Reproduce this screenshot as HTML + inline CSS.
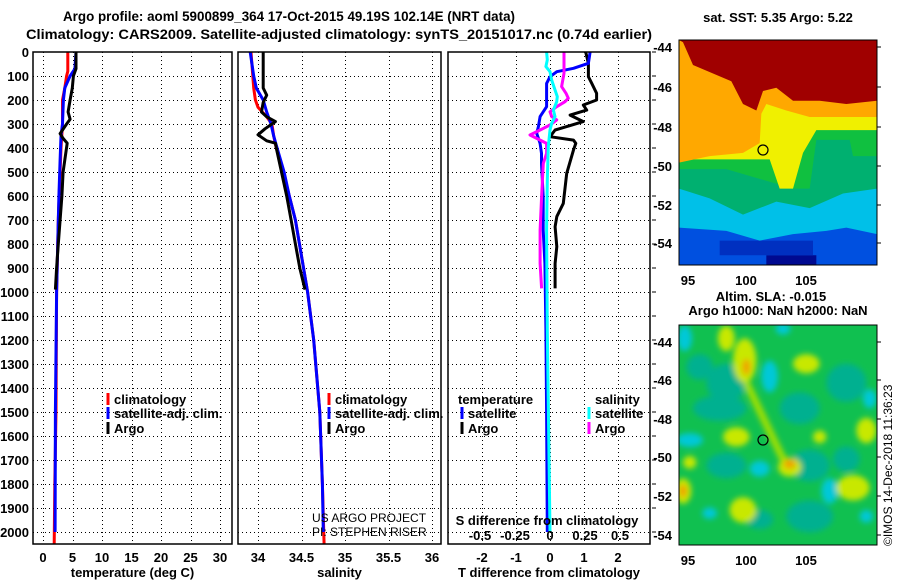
<!DOCTYPE html>
<html><head><meta charset="utf-8">
<style>
html,body{margin:0;padding:0;background:#fff;}
svg{display:block;font-family:"Liberation Sans",sans-serif;}
.b{font-weight:bold;font-size:13px;fill:#000;}
.grid{stroke:#000;stroke-width:1;stroke-dasharray:1,3;shape-rendering:crispEdges;}
</style></head>
<body>
<svg id="chart" width="900" height="580" viewBox="0 0 900 580" xmlns="http://www.w3.org/2000/svg">
<rect width="900" height="580" fill="#fff"/>
<text x="289" y="21" text-anchor="middle" font-weight="bold" font-size="14" textLength="452" lengthAdjust="spacingAndGlyphs">Argo profile: aoml 5900899_364 17-Oct-2015 49.19S 102.14E (NRT data)</text>
<text x="339" y="39" text-anchor="middle" font-weight="bold" font-size="14" textLength="626" lengthAdjust="spacingAndGlyphs">Climatology: CARS2009. Satellite-adjusted climatology: synTS_20151017.nc (0.74d earlier)</text>
<g id="panels"></g>
<g id="maps"></g>
</svg>
<script>
// ---------- data ----------
const depthTicks = [0,100,200,300,400,500,600,700,800,900,1000,1100,1200,1300,1400,1500,1600,1700,1800,1900,2000];
const tempTicks = [0,5,10,15,20,25,30];
const salTicks = [34,34.5,35,35.5,36];
const tdiffTicks = [-2,-1,0,1,2];
const sdiffTicks = [-0.5,-0.25,0,0.25,0.5];

const climTempDepth = [0,80,100,150,200,300,400,500,700,1000,1500,1800,2050];
const climTemp      = [4.2,4.2,4.0,3.7,3.3,3.3,3.05,2.9,2.6,2.3,2.2,2.0,1.9];
const satTempDepth  = [0,70,100,150,200,300,350,450,600,700,1000,1500,2000];
const satTemp       = [5.6,5.4,4.6,3.7,3.45,3.3,3.05,2.9,2.7,2.6,2.3,2.1,2.05];
const argoTempDepth = [0,70,100,150,200,250,280,300,340,360,380,450,500,600,700,800,900,990];
const argoTemp      = [5.6,5.6,5.15,4.97,4.6,4.25,4.6,4.0,2.9,3.4,4.1,3.7,3.4,3.2,2.9,2.6,2.3,2.1];

const climSalDepth = [0,100,150,200,230,270,300,350,400,500,600,700,1000,1200,1500,1800,2050];
const climSal      = [33.92,33.94,33.95,33.97,34.0,34.1,34.16,34.18,34.21,34.29,34.36,34.43,34.57,34.64,34.71,34.74,34.76];
const satSalDepth  = [0,100,150,200,250,300,350,400,500,600,700,1000,1200,1500,1800,2000];
const satSal       = [33.91,33.95,33.98,34.06,34.1,34.15,34.18,34.22,34.3,34.36,34.43,34.57,34.64,34.71,34.74,34.75];
const argoSalDepth = [0,150,180,210,250,270,290,320,345,370,380,400,500,600,700,800,900,990];
const argoSal      = [34.06,34.06,34.1,34.06,34.04,34.1,34.2,34.08,34.0,34.1,34.2,34.21,34.27,34.33,34.38,34.43,34.48,34.54];

const argoTdDepth = [0,47,103,131,172,200,221,242,263,290,311,325,353,367,381,408,506,631,686,728,811,881,985];
const argoTd      = [1.05,1.13,1.13,1.23,1.37,1.37,0.98,1.08,0.59,0.98,0.49,0.15,0,0.69,0.76,0.69,0.49,0.39,0.2,0.15,0.2,0.15,0.15];
const satTdDepth  = [0,47,68,82,103,131,186,228,269,311,339,381,422,464,603,742,881,1154,1500,2000];
const satTd       = [1.18,1.13,0.69,0.2,0,-0.1,-0.1,-0.1,-0.29,-0.34,-0.39,-0.29,-0.25,-0.25,-0.2,-0.2,-0.15,-0.12,-0.1,-0.08];
const argoSdDepth = [0,47,89,144,172,193,207,228,249,269,283,304,325,346,360,381,422,464,603,742,881,985];
const argoSd      = [0.1,0.1,0.1,0.083,0.114,0.131,0.107,0.048,0,0.012,0.048,0,-0.071,-0.143,-0.095,-0.024,-0.024,-0.048,-0.06,-0.071,-0.071,-0.06];
const satSdDepth  = [0,33,61,82,117,158,186,207,242,269,297,325,394,533,742,1154,2000];
const satSd       = [-0.024,-0.019,-0.029,0,0.012,0.036,0.052,0.048,0.024,0.036,0.012,0,-0.012,-0.019,-0.024,-0.019,0];

// ---------- helpers ----------
const NS='http://www.w3.org/2000/svg';
function mk(tag,attrs,parent,text){const e=document.createElementNS(NS,tag);for(const k in attrs)e.setAttribute(k,attrs[k]);if(text!==undefined)e.textContent=text;(parent||document.getElementById('panels')).appendChild(e);return e;}
const TOP=52, PXM=0.24, BOT=544;
const yScale = d => TOP + d*PXM;
const P1 = {x0:33,x1:232,f:v=>43+5.9*v};
const P2 = {x0:238,x1:441,f:v=>258+87*(v-34)};
const P3 = {x0:448,x1:650,f:v=>550+34*v};
const sdx = v=>550+140*v;
const G=document.getElementById('panels');
const px = v => Math.round(v)+0.5;

function line(xs,ds,fx,color,name){
  const pts = xs.map((v,i)=>fx(v).toFixed(1)+','+yScale(ds[i]).toFixed(1)).join(' ');
  const p = mk('polyline',{points:pts,fill:'none',stroke:color,'stroke-width':3,'stroke-linejoin':'round'});
  
  
}
function panel(P,ticks,fx,labels,title,name){
  const g=mk('g',{});
  
  
  depthTicks.forEach(d=>{ if(d>0) mk('line',{x1:P.x0,x2:P.x1,y1:px(yScale(d)),y2:px(yScale(d)),class:'grid'},g); });
  ticks.forEach(t=>{ mk('line',{x1:px(fx(t)),x2:px(fx(t)),y1:TOP,y2:BOT,class:'grid'},g); });
  ticks.forEach((t,i)=>{
    const tl=mk('text',{x:fx(t),y:562,'text-anchor':'middle',class:'b'},g,labels[i]);
    
    
  });
  const at=mk('text',{x:(P.x0+P.x1)/2,y:577,'text-anchor':'middle',class:'b'},g,title);
  
  
  return g;
}
function frame(P,name){
  const r=mk('rect',{x:P.x0,y:TOP,width:P.x1-P.x0,height:BOT-TOP,fill:'none',stroke:'#000','stroke-width':1.5});
  
  
}

// y tick labels
depthTicks.forEach(d=>{
  const t=mk('text',{x:29,y:yScale(d)+5,'text-anchor':'end',class:'b'},G,String(d));
  
  
  mk('line',{x1:652,x2:656,y1:yScale(d),y2:yScale(d),stroke:'#000'},G);
});

panel(P1,tempTicks,P1.f,tempTicks.map(String),'temperature (deg C)','temperature-panel');
panel(P2,salTicks,P2.f,salTicks.map(String),'salinity','salinity-panel');
panel(P3,tdiffTicks,P3.f,tdiffTicks.map(String),'T difference from climatology','difference-panel');

line(climTemp,climTempDepth,P1.f,'#ff0000','clim-temp-line');
line(satTemp,satTempDepth,P1.f,'#0000ff','sat-temp-line');
line(argoTemp,argoTempDepth,P1.f,'#000000','argo-temp-line');
line(climSal,climSalDepth,P2.f,'#ff0000','clim-sal-line');
line(satSal,satSalDepth,P2.f,'#0000ff','sat-sal-line');
line(argoSal,argoSalDepth,P2.f,'#000000','argo-sal-line');
line(argoTd,argoTdDepth,P3.f,'#000000','argo-tdiff-line');
line(satTd,satTdDepth,P3.f,'#0000ff','sat-tdiff-line');
line(argoSd,argoSdDepth,sdx,'#ff00ff','argo-sdiff-line');
line(satSd,satSdDepth,sdx,'#00ffff','sat-sdiff-line');

// S diff axis inside panel 3
const sdt=mk('text',{x:547,y:525,'text-anchor':'middle',class:'b'},G,'S difference from climatology');


const sdLab=['-0.5','-0.25','0','0.25','0.5'];
sdiffTicks.forEach((t,i)=>{
  const e=mk('text',{x:sdx(t),y:540,'text-anchor':'middle',class:'b'},G,sdLab[i]);
  
  
});

frame(P1,'temperature-frame');frame(P2,'salinity-frame');frame(P3,'difference-frame');

// legends
function leg(x,y,color,label,name){
  mk('rect',{x:x-1.5,y:y-6,width:3,height:12,fill:color},G);
  const t=mk('text',{x:x+6,y:y+5,class:'b'},G,label);
  
  
}
leg(108,399,'#ff0000','climatology','legend-climatology');
leg(108,413,'#0000ff','satellite-adj. clim.','legend-satellite-adj');
leg(108,428,'#000000','Argo','legend-argo');
leg(329,399,'#ff0000','climatology','legend-climatology-2');
leg(329,413,'#0000ff','satellite-adj. clim.','legend-satellite-adj-2');
leg(329,428,'#000000','Argo','legend-argo-2');
const lt1=mk('text',{x:458,y:404,class:'b'},G,'temperature');


const lt2=mk('text',{x:595,y:404,class:'b'},G,'salinity');


leg(462,413,'#0000ff','satellite','legend-t-satellite');
leg(462,428,'#000000','Argo','legend-t-argo');
leg(589,413,'#00ffff','satellite','legend-s-satellite');
leg(589,428,'#ff00ff','Argo','legend-s-argo');

const c1=mk('text',{x:312,y:522,'font-size':12,fill:'#000'},G,'US ARGO PROJECT');


const c2=mk('text',{x:312,y:536,'font-size':12,fill:'#000'},G,'PI: STEPHEN RISER');



// ---------- maps ----------
const M=document.getElementById('maps');
function mapAxes(top,bot,latPos){
  [-44,-46,-48,-50,-52,-54].forEach((l,i)=>{
    const t=mk('text',{x:672,y:latPos[i]+5,'text-anchor':'end',class:'b'},M,String(l));
    
    
    mk('line',{x1:877,x2:881,y1:latPos[i],y2:latPos[i],stroke:'#000'},M);
  });
  [[688,'95'],[746,'100'],[806,'105']].forEach(a=>{
    const t=mk('text',{x:a[0],y:bot+20,'text-anchor':'middle',class:'b'},M,a[1]);
    
    
  });
  mk('rect',{x:679,y:top,width:198,height:bot-top,fill:'none',stroke:'#000','stroke-width':1},M);
}
// SST map
const s1=mk('svg',{x:679,y:40,width:198,height:225,viewBox:'58 103 594 692',preserveAspectRatio:'none'},M);


mk('rect',{x:58,y:103,width:594,height:692,fill:'#0050e0'},s1);
mk('rect',{x:320,y:765,width:150,height:30,fill:'#000a90'},s1);
mk('rect',{x:180,y:720,width:280,height:45,fill:'#0030c0'},s1);
mk('polygon',{points:'58,103 652,103 652,700 560,680 500,690 400,700 300,720 200,690 58,680',fill:'#00c0e8'},s1);
mk('polygon',{points:'58,103 652,103 652,560 550,575 450,620 350,600 250,640 150,590 58,560',fill:'#00b070'},s1);
mk('polygon',{points:'58,103 652,103 652,460 580,460 570,410 470,410 450,560 400,560 300,530 200,500 58,500',fill:'#10c040'},s1);
mk('polygon',{points:'58,103 652,103 652,380 470,380 430,450 400,560 360,560 330,470 200,470 58,470',fill:'#f0f000'},s1);
mk('polygon',{points:'58,103 652,103 652,340 450,340 380,320 320,300 305,330 300,420 250,450 150,460 58,480',fill:'#ffa800'},s1);
mk('polygon',{points:'58,103 652,103 652,290 560,300 480,290 400,290 350,250 310,260 290,320 250,300 215,230 100,180 70,110 58,103',fill:'#a00000'},s1);
mapAxes(40,265,[47,87,127,166,205,243]);
mk('circle',{cx:763,cy:150,r:5,fill:'none',stroke:'#000','stroke-width':1.2},M);
const mt1=mk('text',{x:778,y:22,'text-anchor':'middle',class:'b'},M,'sat. SST: 5.35 Argo: 5.22');



// SLA map
const s2=mk('svg',{x:679,y:325,width:198,height:220,viewBox:'58 118 594 692',preserveAspectRatio:'none'},M);


const defs=mk('defs',{},s2);
const flt=mk('filter',{id:'bl',x:'-50%',y:'-50%',width:'200%',height:'200%'},defs);
mk('feGaussianBlur',{stdDeviation:9},flt);
mk('rect',{x:58,y:118,width:594,height:692,fill:'#10c050'},s2);
const gb=mk('g',{filter:'url(#bl)'},s2);
[[200,300,60,60],[180,380,80,40],[420,380,60,50],[560,300,60,60],[450,560,60,50],[200,560,60,40],[450,720,70,50],[300,730,40,30],[560,540,40,40],[120,250,40,40]].forEach(e=>mk('ellipse',{cx:e[0],cy:e[1],rx:e[2],ry:e[3],fill:'#00b090'},gb));
[[75,160,22,40],[370,130,22,18],[330,280,25,50],[630,350,20,30],[300,570,30,25],[90,480,40,22],[510,640,25,40],[150,710,22,18],[620,720,20,20]].forEach(e=>mk('ellipse',{cx:e[0],cy:e[1],rx:e[2],ry:e[3],fill:'#00c8d8'},gb));
mk('line',{x1:260,y1:300,x2:370,y2:540,stroke:'#a0e000','stroke-width':22},gb);
[[255,230,35,70],[230,470,40,30],[440,240,40,30],[620,450,30,40],[90,550,20,20],[580,630,50,40],[70,640,25,40],[250,700,40,40],[480,470,20,20],[390,565,35,30],[200,160,25,40]].forEach(e=>mk('ellipse',{cx:e[0],cy:e[1],rx:e[2],ry:e[3],fill:'#c8e800'},gb));
[[390,555,18,15],[70,640,12,20],[260,250,12,25]].forEach(e=>mk('ellipse',{cx:e[0],cy:e[1],rx:e[2],ry:e[3],fill:'#f0a000'},gb));
mapAxes(325,545,[342,380,419,457,496,535]);
mk('circle',{cx:763,cy:440,r:5,fill:'none',stroke:'#000','stroke-width':1.2},M);
const mt2=mk('text',{x:771,y:301,'text-anchor':'middle',class:'b'},M,'Altim. SLA: -0.015');


const mt3=mk('text',{x:778,y:315,'text-anchor':'middle',class:'b'},M,'Argo h1000: NaN h2000: NaN');


const im=mk('text',{x:0,y:0,'font-size':12,fill:'#000',transform:'translate(892,546) rotate(-90)'},M,'©IMOS 14-Dec-2018 11:36:23');


</script>
</body></html>
